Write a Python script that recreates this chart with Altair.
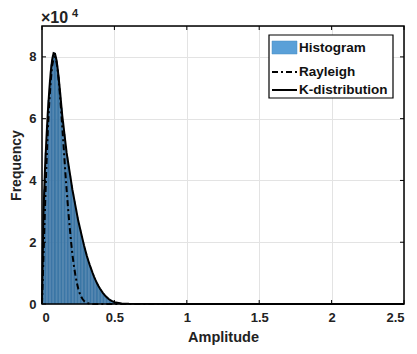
import altair as alt
import pandas as pd

# Histogram: bins of width 0.01 starting at 0 (counts in units of 1e4)
bin_width = 0.01
hist_counts = [2.0, 3.7, 4.9, 5.8, 6.6, 7.25, 7.75, 8.05, 8.13, 8.0,
               7.75, 7.35, 6.85, 6.35, 5.9, 5.5, 5.1, 4.75, 4.45, 4.15,
               3.85, 3.57, 3.32, 3.07, 2.82, 2.6, 2.4, 2.2, 2.0, 1.81,
               1.63, 1.47, 1.33, 1.2, 1.06, 0.94, 0.82, 0.72, 0.62, 0.54,
               0.47, 0.4, 0.34, 0.29, 0.24, 0.2, 0.16, 0.13, 0.1, 0.08,
               0.06, 0.05, 0.04, 0.03, 0.02, 0.015, 0.01, 0.008, 0.005, 0.003]

# Rayleigh fit (units of 1e4)
ray_x = [0, 0.01, 0.02, 0.03, 0.04, 0.05, 0.06, 0.07, 0.08, 0.09, 0.10,
         0.11, 0.12, 0.13, 0.14, 0.15, 0.16, 0.17, 0.18, 0.19, 0.20,
         0.21, 0.22, 0.23, 0.24, 0.25, 0.26, 0.27, 0.28, 0.29, 0.30,
         0.32, 0.35, 0.5, 1.0, 1.5, 2.0, 2.5]
ray_y = [0, 1.5, 3.0, 4.4, 5.6, 6.5, 7.2, 7.7, 7.95, 8.0, 7.85,
         7.5, 7.0, 6.4, 5.75, 5.05, 4.35, 3.7, 3.1, 2.55, 2.05,
         1.6, 1.25, 0.95, 0.7, 0.5, 0.35, 0.24, 0.16, 0.1, 0.06,
         0.02, 0.0, 0.0, 0.0, 0.0, 0.0, 0.0]

# K-distribution fit (units of 1e4)
k_x = [0, 0.01, 0.02, 0.03, 0.04, 0.05, 0.06, 0.07, 0.08, 0.09, 0.10,
       0.11, 0.12, 0.13, 0.14, 0.15, 0.16, 0.17, 0.18, 0.19, 0.20,
       0.21, 0.22, 0.23, 0.24, 0.25, 0.26, 0.27, 0.28, 0.29, 0.30,
       0.31, 0.32, 0.33, 0.34, 0.35, 0.36, 0.37, 0.38, 0.39, 0.40,
       0.42, 0.44, 0.46, 0.48, 0.50, 0.55, 0.60, 1.0, 1.5, 2.0, 2.5]
k_y = [0, 2.9, 4.3, 5.3, 6.2, 6.9, 7.5, 7.9, 8.12, 8.1, 7.9,
       7.55, 7.1, 6.6, 6.1, 5.7, 5.3, 4.9, 4.6, 4.3, 4.0,
       3.7, 3.45, 3.2, 2.95, 2.7, 2.5, 2.3, 2.1, 1.9, 1.72,
       1.55, 1.4, 1.26, 1.13, 1.0, 0.88, 0.77, 0.67, 0.58, 0.5,
       0.36, 0.25, 0.16, 0.1, 0.06, 0.02, 0.005, 0, 0, 0, 0]

x_ticks = [0, 0.5, 1, 1.5, 2, 2.5]
y_ticks = [0, 2, 4, 6, 8]
legend_labels = ["Histogram", "Rayleigh", "K-distribution"]

W, H = 362, 278
FONT = "Liberation Sans"

hist_df = pd.DataFrame({
    "x0": [i * bin_width for i in range(len(hist_counts))],
    "x1": [(i + 1) * bin_width for i in range(len(hist_counts))],
    "count": hist_counts,
})
ray_df = pd.DataFrame({"x": ray_x, "y": ray_y})
k_df = pd.DataFrame({"x": k_x, "y": k_y})

xs = alt.Scale(domain=[0, 2.5], nice=False, zero=False)
ys = alt.Scale(domain=[0, 9], nice=False)

x_axis = alt.Axis(values=x_ticks, title="Amplitude", grid=True, gridColor="#e3e3e3",
                  tickSize=0, labelPadding=7, domain=False,
                  labelFont=FONT, labelFontWeight="bold", labelFontSize=13, labelColor="#222",
                  titleFont=FONT, titleFontWeight="bold", titleFontSize=14.5, titleColor="#222",
                  titlePadding=6, labelExpr="datum.value")
y_axis = alt.Axis(values=y_ticks, title="Frequency", grid=True, gridColor="#e3e3e3",
                  tickSize=0, labelPadding=6, domain=False,
                  labelFont=FONT, labelFontWeight="bold", labelFontSize=13, labelColor="#222",
                  titleFont=FONT, titleFontWeight="bold", titleFontSize=14, titleColor="#222",
                  titlePadding=5)

hist = alt.Chart(hist_df).mark_rect(color="#3f7aab", stroke="#3a6f9c", strokeWidth=0.3).encode(
    x=alt.X("x0:Q", scale=xs, axis=x_axis),
    x2="x1:Q",
    y=alt.Y("count:Q", scale=ys, axis=y_axis),
    y2=alt.datum(0),
)

ray = alt.Chart(ray_df).mark_line(color="black", strokeWidth=2, strokeDash=[6, 3, 2, 3]).encode(
    x=alt.X("x:Q", scale=xs), y=alt.Y("y:Q", scale=ys))
kd = alt.Chart(k_df).mark_line(color="black", strokeWidth=2).encode(
    x=alt.X("x:Q", scale=xs), y=alt.Y("y:Q", scale=ys))

# inward ticks (MATLAB style)
xt_df = pd.DataFrame({"v": x_ticks})
yt_df = pd.DataFrame({"v": y_ticks})
xt_bot = alt.Chart(xt_df).mark_rule(color="black", strokeWidth=1).encode(
    x=alt.X("v:Q", scale=xs), y=alt.value(H), y2=alt.value(H - 4))
xt_top = alt.Chart(xt_df).mark_rule(color="black", strokeWidth=1).encode(
    x=alt.X("v:Q", scale=xs), y=alt.value(0), y2=alt.value(4))
yt_left = alt.Chart(yt_df).mark_rule(color="black", strokeWidth=1).encode(
    y=alt.Y("v:Q", scale=ys), x=alt.value(0), x2=alt.value(4))
yt_right = alt.Chart(yt_df).mark_rule(color="black", strokeWidth=1).encode(
    y=alt.Y("v:Q", scale=ys), x=alt.value(W), x2=alt.value(W - 4))

# axis box
box = alt.Chart(pd.DataFrame({"a": [0]})).mark_rect(fill=None, stroke="black", strokeWidth=1.5).encode(
    x=alt.value(0), x2=alt.value(W), y=alt.value(0), y2=alt.value(H))

# exponent label
exp_base = alt.Chart(pd.DataFrame({"t": ["×10"]})).mark_text(
    align="left", baseline="alphabetic", font=FONT, fontWeight="bold", fontSize=16, color="#222"
).encode(text="t:N", x=alt.value(-1), y=alt.value(-3))
exp_pow = alt.Chart(pd.DataFrame({"t": ["4"]})).mark_text(
    align="left", baseline="alphabetic", font=FONT, fontWeight="bold", fontSize=11, color="#222"
).encode(text="t:N", x=alt.value(30), y=alt.value(-9))

# legend
lx0, lx1, ly0, ly1 = 227, 351, 9, 72
leg_box = alt.Chart(pd.DataFrame({"a": [0]})).mark_rect(fill="white", stroke="black", strokeWidth=1.2).encode(
    x=alt.value(lx0), x2=alt.value(lx1), y=alt.value(ly0), y2=alt.value(ly1))
leg_patch = alt.Chart(pd.DataFrame({"a": [0]})).mark_rect(fill="#5aa0d8", stroke="#4a8cc0", strokeWidth=0.5).encode(
    x=alt.value(230), x2=alt.value(255), y=alt.value(15), y2=alt.value(28))
leg_ray = alt.Chart(pd.DataFrame({"a": [0]})).mark_rule(color="black", strokeWidth=2, strokeDash=[6, 3, 2, 3]).encode(
    x=alt.value(230), x2=alt.value(255), y=alt.value(46))
leg_k = alt.Chart(pd.DataFrame({"a": [0]})).mark_rule(color="black", strokeWidth=2).encode(
    x=alt.value(230), x2=alt.value(255), y=alt.value(64))
leg_text = alt.Chart(pd.DataFrame({"t": legend_labels, "py": [22, 46, 64]})).mark_text(
    align="left", baseline="middle", font=FONT, fontWeight="bold", fontSize=13.5, color="#111"
).encode(text="t:N", x=alt.value(257), y=alt.Y("py:Q", scale=None))

chart = alt.layer(
    hist, ray, kd, xt_bot, xt_top, yt_left, yt_right, box,
    exp_base, exp_pow, leg_box, leg_patch, leg_ray, leg_k, leg_text
).properties(
    width=W, height=H,
    autosize=alt.AutoSizeParams(type="none"),
    padding={"left": 34, "top": 18, "right": 5, "bottom": 42},
).configure_view(stroke=None).configure(background="white")

chart.save("out.html", embed_options={"renderer": "svg", "actions": False})
